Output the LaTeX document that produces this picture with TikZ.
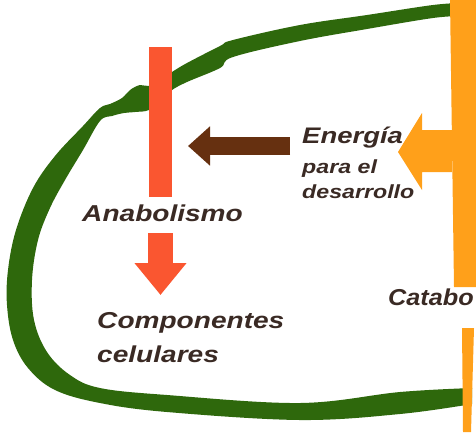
\documentclass[tikz,border=0pt]{standalone}
\usepackage{fontspec}
\setmainfont{Liberation Sans}
\usetikzlibrary{arrows.meta,calc}
\definecolor{loopgreen}{RGB}{46,104,12}
\definecolor{anared}{RGB}{250,86,48}
\definecolor{catorange}{RGB}{255,160,26}
\definecolor{energybrown}{RGB}{102,48,16}
\definecolor{labelink}{RGB}{58,42,36}
\tikzset{
  lbl/.style={
    text=labelink, inner sep=0pt, anchor=base west,
    font=\bfseries\itshape, xscale=1.22, transform shape
  },
  brownarrow/.style={
    draw=energybrown, line width=18pt,
    -{Triangle[length=22pt,width=38pt]}
  },
  redarrow/.style={
    draw=anared, line width=25pt,
    -{Triangle[length=32pt,width=50pt]}
  }
}

\begin{document}
\begin{tikzpicture}[x=1pt,y=-1pt]
  \useasboundingbox (0,0) rectangle (476,432);
  \clip (0,0) rectangle (476,432);
  \fill[white] (0,0) rectangle (476,432);

  % cell boundary
  \fill[loopgreen] plot[smooth,tension=0.6] coordinates {
      (462,3) (433,5) (367,15) (300,25) (233,40) (220,46) (187,63)
      (172,72) (160,80) (149,86) (140,85) (130,90) (122,98) (110,104)
      (100,108) (83,126) (55,156) (33,188) (16,230)
      (8,270) (7,305) (13,340) (28,368) (55,390) (100,403) (167,412)
      (300,420) (400,414) (472,404)}
    -- plot[smooth,tension=0.6] coordinates {
      (472,388) (400,392) (300,403) (167,395) (100,388) (70,375)
      (47,352) (34,320) (32,280) (38,240) (50,208) (65,180) (83,150)
      (100,121) (112,116) (124,113) (135,112) (149,110) (160,100)
      (172,90) (187,82) (220,68) (233,57) (300,41) (367,29) (433,18)
      (462,16)}
    -- cycle;

  % anabolism
  \node[fill=anared, minimum width=23pt, minimum height=150pt,
        inner sep=0pt] (bar) at (160.5,122) {};
  \node[lbl, font=\fontsize{23}{23}\selectfont\bfseries\itshape]
    (anab) at (82,221) {Anabolismo};
  \coordinate (rFrom) at (bar.south |- 0,233);
  \coordinate (rTo) at (bar.south |- 0,295);
  \draw[redarrow] (rFrom) -- (rTo);
  \node[lbl, font=\fontsize{23}{23}\selectfont\bfseries\itshape]
    (comp) at (97,328) {Componentes};
  \node[lbl, font=\fontsize{23}{23}\selectfont\bfseries\itshape]
    (celu) at (97,362) {celulares};

  % energy
  \node[lbl, font=\fontsize{22.5}{22.5}\selectfont\bfseries\itshape]
    (energia) at (302,143) {Energía};
  \node[lbl, font=\fontsize{19}{19}\selectfont\bfseries\itshape]
    (para) at (302,173) {para el};
  \node[lbl, font=\fontsize{19}{19}\selectfont\bfseries\itshape]
    (desa) at (302,198) {desarrollo};
  \coordinate (eFrom) at (290,146);
  \coordinate (eTo) at (188,146);
  \draw[brownarrow] (eFrom) -- (eTo);

  % catabolism
  \fill[catorange] (450,0) -- (476,0) -- (476,287) -- (454,287) -- cycle;
  \fill[catorange] (462,328) -- (474,328) -- (471,432) -- (463,432) -- cycle;
  \fill[catorange] (452,130) -- (422,130) -- (422,113) -- (398,152)
    -- (422,190) -- (422,172) -- (452,172) -- cycle;
  \node[lbl, xscale=0.9, font=\fontsize{23}{23}\selectfont\bfseries\itshape]
    (catab) at (388,305) {Catabo};
\end{tikzpicture}
\end{document}
